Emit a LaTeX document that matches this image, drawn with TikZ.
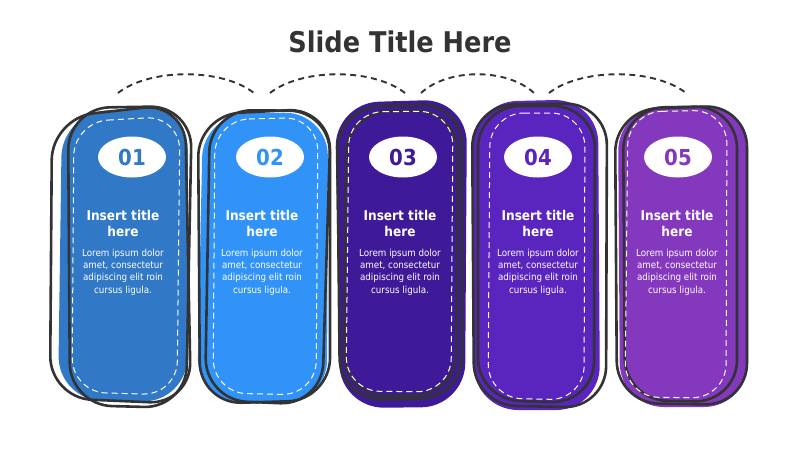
\documentclass[tikz,border=0pt]{standalone}
\usepackage{fontspec}
\setmainfont{DejaVu Sans Condensed}
\usetikzlibrary{shapes.geometric}
\definecolor{cA}{HTML}{3178C6}
\definecolor{cB}{HTML}{3193F7}
\definecolor{cC}{HTML}{3F1A98}
\definecolor{cD}{HTML}{5A24BE}
\definecolor{cE}{HTML}{8438BE}
\definecolor{ink}{HTML}{333333}
\tikzset{
  outl/.style={draw=ink, line width=2.6pt, rounded corners=42pt},
  blob/.style={rounded corners=44pt},
  stitch/.style={draw=white, line width=1pt, dash pattern=on 6pt off 4pt, rounded corners=34pt},
  numbox/.style={ellipse, fill=white, minimum width=68pt, minimum height=41pt, inner sep=0pt, font=\bfseries\fontsize{22}{22}\selectfont},
  ttl/.style={text=white, font=\bfseries\fontsize{13.5}{16}\selectfont, align=center},
  body/.style={text=white, font=\fontsize{9.7}{12.3}\selectfont, align=center},
  arcline/.style={draw=ink, line width=1.9pt, dash pattern=on 6pt off 4.5pt}
}
\begin{document}
\begin{tikzpicture}[x=1pt,y=-1pt]
\useasboundingbox (0,0) rectangle (800,450);
\node[font=\bfseries\fontsize{28.5}{30}\selectfont, text=ink] (title) at (400,42) {Slide Title Here};

% card 1
\fill[cA, blob] (62,113) -- (188,106) -- (187,402) -- (58,400) -- cycle;
\draw[outl] (52,118) -- (185,103) -- (191,404) -- (50,398) -- cycle;
\draw[outl] (68,108) -- (192,106) -- (186,408) -- (70,405) -- cycle;
\draw[stitch] (74,122) -- (180,116) -- (177,395) -- (72,392) -- cycle;
\node[numbox, text=cA] (n1) at (132,157) {01};
\node[ttl] (t1) at (123,223) {Insert title\\here};
\node[body] (b1) at (123,272) {Lorem ipsum dolor\\amet, consectetur\\adipiscing elit roin\\cursus ligula.};

% card 2
\fill[cB, blob] (203,114) -- (328,112) -- (327,404) -- (197,402) -- cycle;
\draw[outl] (198,115) -- (330,108) -- (330,400) -- (200,404) -- cycle;
\draw[outl] (210,110) -- (331,111) -- (322,405) -- (205,400) -- cycle;
\draw[stitch] (215,120) -- (318,117) -- (316,395) -- (213,393) -- cycle;
\node[numbox, text=cB] (n2) at (270,157) {02};
\node[ttl] (t2) at (262,223) {Insert title\\here};
\node[body] (b2) at (262,272) {Lorem ipsum dolor\\amet, consectetur\\adipiscing elit roin\\cursus ligula.};

% card 3
\fill[cC, blob] (335,103) -- (467,99) -- (465,407) -- (340,408) -- cycle;
\draw[outl] (337,108) -- (462,103) -- (462,398) -- (340,400) -- cycle;
\draw[outl] (346,112) -- (458,110) -- (456,395) -- (344,396) -- cycle;
\draw[stitch] (349,112) -- (453,111) -- (451,392) -- (346,391) -- cycle;
\node[numbox, text=cC] (n3) at (403,157) {03};
\node[ttl] (t3) at (400,223) {Insert title\\here};
\node[body] (b3) at (400,272) {Lorem ipsum dolor\\amet, consectetur\\adipiscing elit roin\\cursus ligula.};

% card 4
\fill[cD, blob] (473,102) -- (598,99) -- (600,410) -- (474,410) -- cycle;
\draw[outl] (472,105) -- (607,103) -- (606,408) -- (474,405) -- cycle;
\draw[outl] (478,106) -- (595,106) -- (594,403) -- (478,400) -- cycle;
\draw[stitch] (490,113) -- (585,113) -- (584,400) -- (488,398) -- cycle;
\node[numbox, text=cD] (n4) at (538,157) {04};
\node[ttl] (t4) at (538,223) {Insert title\\here};
\node[body] (b4) at (538,272) {Lorem ipsum dolor\\amet, consectetur\\adipiscing elit roin\\cursus ligula.};

% card 5
\fill[cE, blob] (618,107) -- (748,105) -- (748,407) -- (620,407) -- cycle;
\draw[outl] (615,110) -- (747,105) -- (747,405) -- (617,403) -- cycle;
\draw[outl] (623,108) -- (737,106) -- (737,402) -- (625,400) -- cycle;
\draw[stitch] (628,112) -- (727,110) -- (726,398) -- (625,397) -- cycle;
\node[numbox, text=cE] (n5) at (678,157) {05};
\node[ttl] (t5) at (677,223) {Insert title\\here};
\node[body] (b5) at (677,272) {Lorem ipsum dolor\\amet, consectetur\\adipiscing elit roin\\cursus ligula.};

% dashed arcs
\coordinate (a1) at (118,93); \coordinate (a2) at (254,93);
\coordinate (a3) at (270,93); \coordinate (a4) at (405,93);
\coordinate (a5) at (421,93); \coordinate (a6) at (534,93);
\coordinate (a7) at (549,93); \coordinate (a8) at (686,93);
\draw[arcline] (a1) .. controls (150,68) and (222,68) .. (a2);
\draw[arcline] (a3) .. controls (302,68) and (373,68) .. (a4);
\draw[arcline] (a5) .. controls (448,68) and (507,68) .. (a6);
\draw[arcline] (a7) .. controls (581,68) and (654,68) .. (a8);
\end{tikzpicture}
\end{document}
